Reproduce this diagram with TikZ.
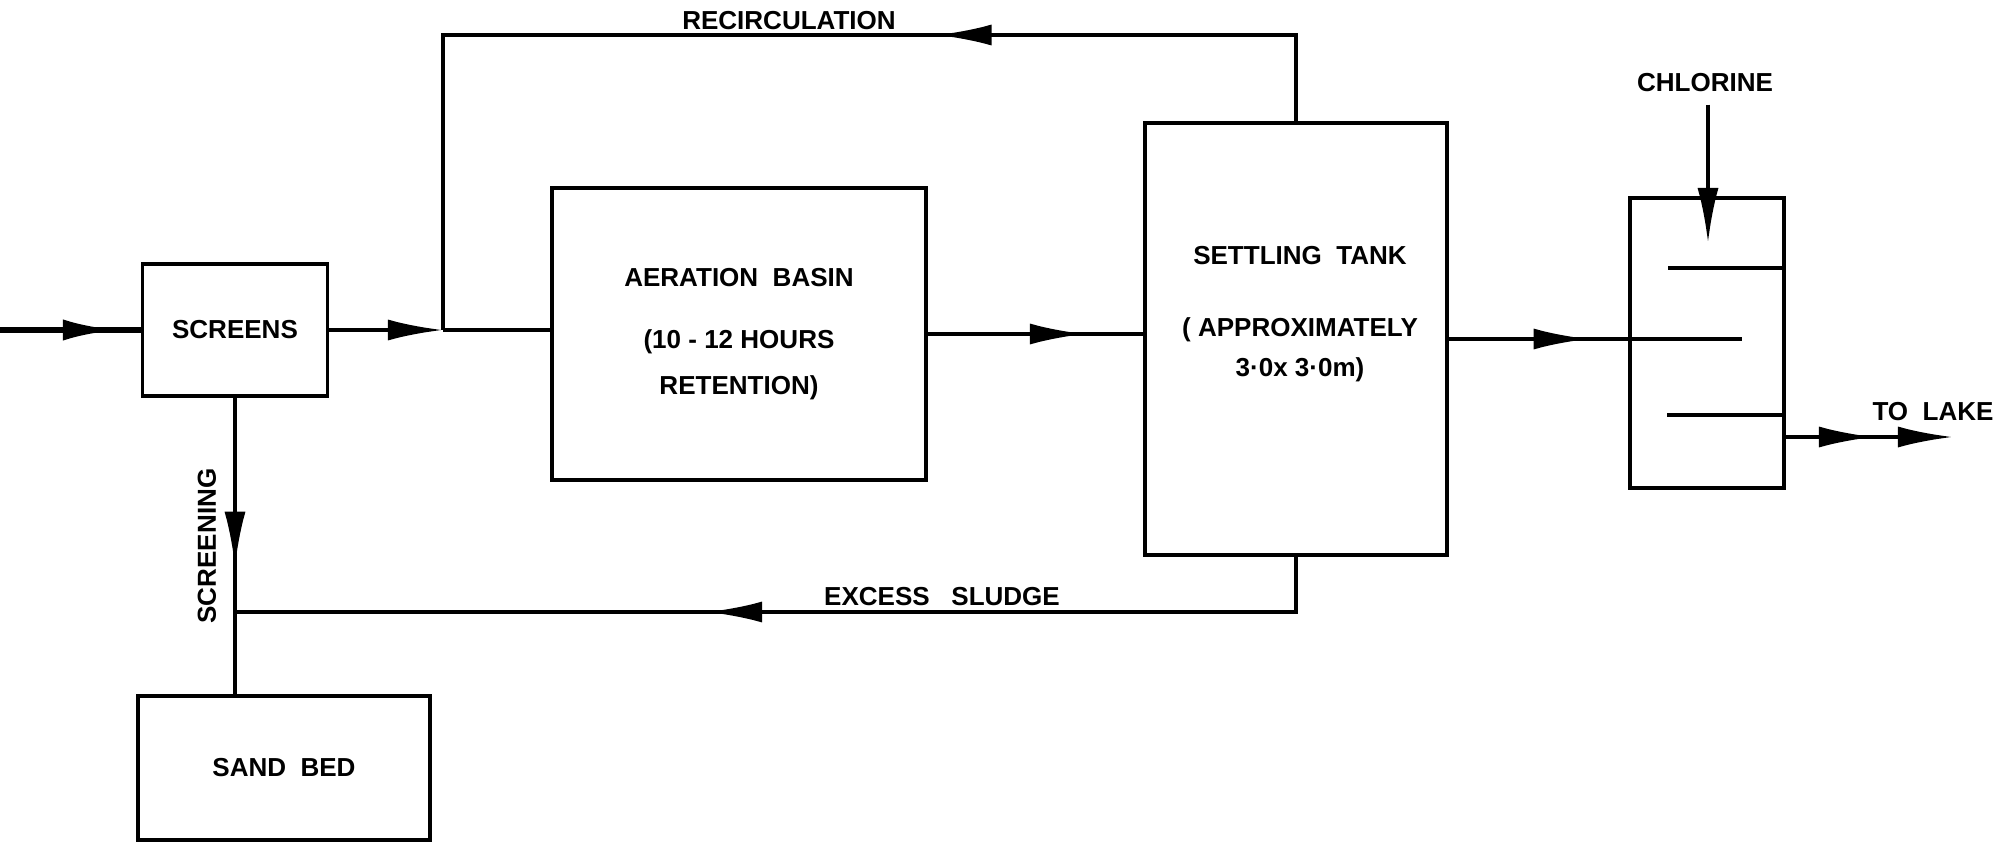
\documentclass[tikz,border=0pt]{standalone}
\usepackage{fontspec}
\setmainfont{Liberation Sans}
\usetikzlibrary{arrows.meta,positioning,calc,decorations.markings}

\begin{document}
\begin{tikzpicture}[
  x=0.01cm, y=-0.01cm,
  >={Latex[length=5.5mm,width=2.1mm]},
  every node/.style={font=\fontsize{7.4pt}{13pt}\selectfont\bfseries},
  box/.style={draw, line width=1.1pt, inner sep=0pt, align=center},
  line/.style={line width=1.1pt},
  midarr/.style={postaction={decorate}, decoration={markings, mark=at position #1 with {\arrow{>}}}},
]
  \useasboundingbox (0,0) rectangle (2002,845);

  % units
  \node[box, minimum width=1.85cm, minimum height=1.32cm] (screens) at (235,330) {SCREENS};
  \node[box, minimum width=3.74cm, minimum height=2.92cm] (aer) at (739,334)
    {AERATION\ \ BASIN\\[0.17cm](10 - 12 HOURS\\RETENTION)};
  \node[box, minimum width=3.02cm, minimum height=4.32cm] (settle) at (1296,339) {};
  \node[align=center] (settletxt) at (1300,314)
    {SETTLING\ \ TANK\\[0.26cm]( APPROXIMATELY\\[-0.06cm]3·0x 3·0m)};
  \node[box, minimum width=1.54cm, minimum height=2.90cm] (chlor) at (1707,343) {};
  \node[box, minimum width=2.92cm, minimum height=1.44cm] (sand) at (284,768) {SAND\ \ BED};

  % baffles in the contact tank
  \draw[line] (chlor.east |- 0,268) -- (1668,268);
  \draw[line] (settle.east -| chlor.west) -- (1742,339);
  \draw[line] (chlor.east |- 0,415) -- (1667,415);

  % flows
  \coordinate (in) at (0,330);
  \coordinate (j1) at (443,330);
  \coordinate (j2) at (235,612);
  \coordinate (cltip) at (1708,243);
  \coordinate (lake) at (1953,437);

  \draw[line, line width=1.8pt, midarr=0.84] (in) -- (screens.west);
  \draw[line, ->] (screens.east) -- (j1);
  \draw[line] (j1) -- (j1 -| aer.west);
  \draw[line, midarr=0.361] (settle.north) |- (j1 |- 0,35) -- (j1);
  \draw[line, midarr=0.73] (aer.east) -- (aer.east -| settle.west);
  \draw[line, midarr=0.78] (settle.east) -- (settle.east -| chlor.west);
  \draw[line, midarr=0.577] (settle.south) |- (j2);
  \draw[line, midarr=0.57] (screens.south) -- (screens.south |- sand.north);
  \draw[line, midarr=0.527, ->] (lake -| chlor.east) -- (lake);

  % labels
  \node (recirc) at (789,21) {RECIRCULATION};
  \node (cl) at (1705,83) {CHLORINE};
  \draw[line, ->] (cl.south -| cltip) -- (cltip);
  \node (tolake) at (1933,412) {TO\ \ LAKE};
  \node (excess) at (942,597) {EXCESS\ \ \ SLUDGE};
  \node[rotate=90] (screening) at (207,546) {SCREENING};
\end{tikzpicture}
\end{document}
